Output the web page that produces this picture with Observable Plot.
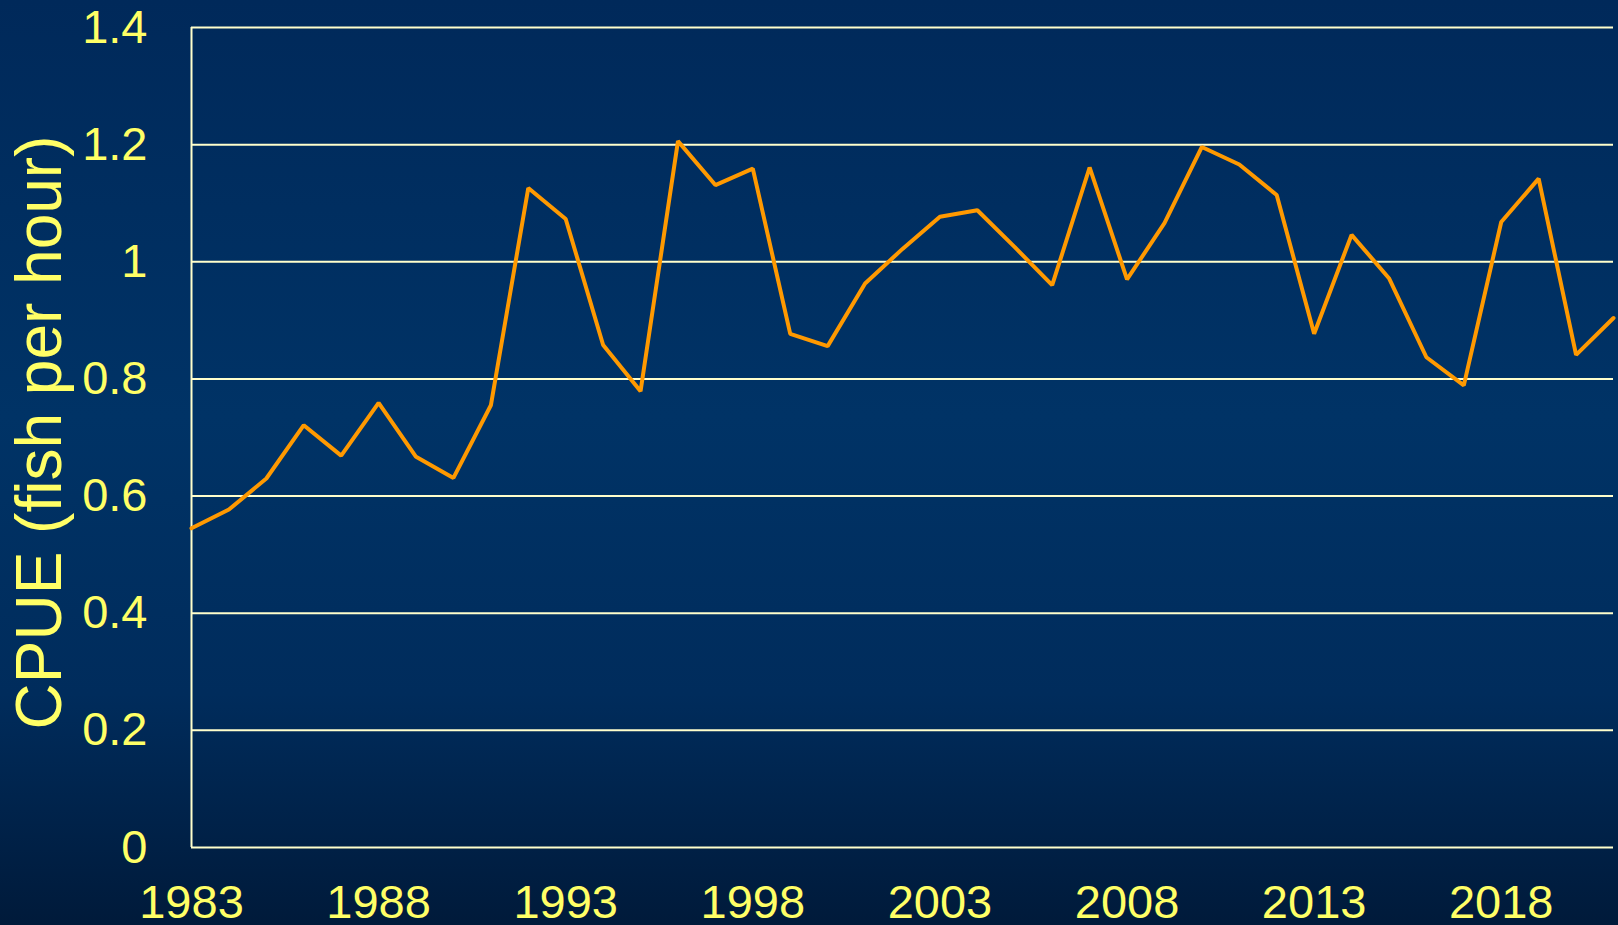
<!DOCTYPE html>
<html>
<head>
<meta charset="utf-8">
<script src="https://cdn.jsdelivr.net/npm/d3@7"></script>
<script src="https://cdn.jsdelivr.net/npm/@observablehq/plot@0.6"></script>
<style>
  html, body { margin: 0; padding: 0; }
  body {
    width: 1618px; height: 925px; overflow: hidden;
    background: linear-gradient(to bottom, #00295a 0%, #003366 45%, #002c5c 75%, #001a3a 100%);
    font-family: "Liberation Sans", Arial, sans-serif;
  }
  #chart svg { display: block; overflow: visible; }
</style>
</head>
<body>
<div id="chart"></div>
<script>
const years = [1983,1984,1985,1986,1987,1988,1989,1990,1991,1992,1993,1994,1995,1996,1997,1998,1999,2000,2001,2002,2003,2004,2005,2006,2007,2008,2009,2010,2011,2012,2013,2014,2015,2016,2017,2018,2019,2020,2021];
const cpue = [0.545,0.577,0.630,0.721,0.669,0.759,0.667,0.631,0.755,1.126,1.073,0.858,0.779,1.206,1.131,1.159,0.877,0.856,0.963,1.022,1.077,1.088,1.025,0.960,1.161,0.970,1.066,1.196,1.166,1.114,0.877,1.046,0.972,0.837,0.789,1.068,1.142,0.841,0.904];
const xTicks = [1983,1988,1993,1998,2003,2008,2013,2018];
const yTicks = [0,0.2,0.4,0.6,0.8,1,1.2,1.4];
const yLabels = ["0","0.2","0.4","0.6","0.8","1","1.2","1.4"];
const yTitle = "CPUE (fish per hour)";

const data = years.map((y, i) => ({year: y, value: cpue[i]}));
const textColor = "#ffff66";
const gridColor = "#ffffcc";

const chart = Plot.plot({
  width: 1618,
  height: 925,
  marginLeft: 191,
  marginRight: 5,
  marginTop: 27,
  marginBottom: 78,
  style: {background: "transparent", fontFamily: "'Liberation Sans', Arial, sans-serif"},
  x: {domain: [1983, 2021]},
  y: {domain: [0, 1.4]},
  marks: [
    Plot.ruleY(yTicks, {stroke: gridColor, strokeWidth: 2}),
    Plot.ruleX([1983], {stroke: gridColor, strokeWidth: 2}),
    Plot.axisX(xTicks, {tickSize: 0, tickPadding: 37, fontSize: 47, color: textColor, tickFormat: d => String(d), label: null}),
    Plot.axisY(yTicks, {tickSize: 0, tickPadding: 44, fontSize: 47, color: textColor, tickFormat: (d, i) => yLabels[i], label: null}),
    Plot.line(data, {x: "year", y: "value", stroke: "#ff9900", strokeWidth: 4, strokeLinejoin: "miter"}),
    Plot.text([yTitle], {frameAnchor: "left", rotate: -90, dx: -176, dy: -5, textAnchor: "middle", lineAnchor: "top", fontSize: 64, fill: textColor, text: d => d})
  ]
});
document.getElementById("chart").appendChild(chart);
</script>
</body>
</html>
